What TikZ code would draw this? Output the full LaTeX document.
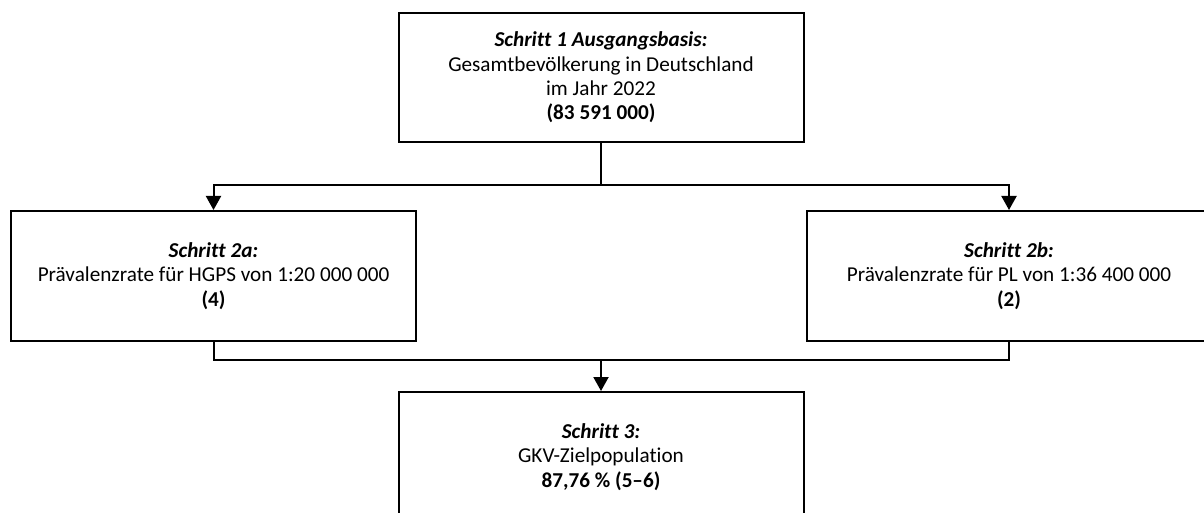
\documentclass[tikz,border=0pt]{standalone}
\usepackage{fontspec}
\setmainfont{Carlito}[Ligatures=CommonOff]
\usetikzlibrary{arrows.meta}
\tikzset{
  stepbox/.style={draw=black, line width=2pt, rectangle, inner sep=0pt,
    minimum width=405pt, minimum height=129pt, align=center,
    font=\fontsize{21.2}{24.4}\selectfont},
  conn/.style={draw=black, line width=2pt},
  arr/.style={conn, -{Triangle[width=15pt,length=14pt]}}
}
\begin{document}
\begin{tikzpicture}[x=1pt,y=-1pt]
\useasboundingbox (0,0) rectangle (1204,513);
\clip (0,0) rectangle (1204,513);
\node[stepbox] (s1) at (601,77.5) {\textbf{\textit{Schritt 1 Ausgangsbasis:}}\\Gesamtbevölkerung in Deutschland\\im Jahr 2022\\\textbf{(83 591 000)}};
\node[stepbox, minimum height=130pt] (s2a) at (213.5,276) {\textbf{\textit{Schritt 2a:}}\\Prävalenzrate für HGPS von 1:20 000 000\\\textbf{(4)}};
\node[stepbox, minimum height=130pt] (s2b) at (1009,276) {\textbf{\textit{Schritt 2b:}}\\Prävalenzrate für PL von 1:36 400 000\\\textbf{(2)}};
\node[stepbox, minimum height=130pt] (s3) at (601,457) {\textbf{\textit{Schritt 3:}}\\GKV-Zielpopulation\\\textbf{87,76 \% (5–6)}};
\coordinate (split) at (601,185);
\coordinate (join) at (601,360);
\draw[conn] (s1.south) -- (split);
\draw[arr] (split) -| (s2a.north);
\draw[arr] (split) -| (s2b.north);
\draw[conn] (s2a.south) |- (join) -| (s2b.south);
\draw[arr] (join) -- (s3.north);
\end{tikzpicture}
\end{document}
